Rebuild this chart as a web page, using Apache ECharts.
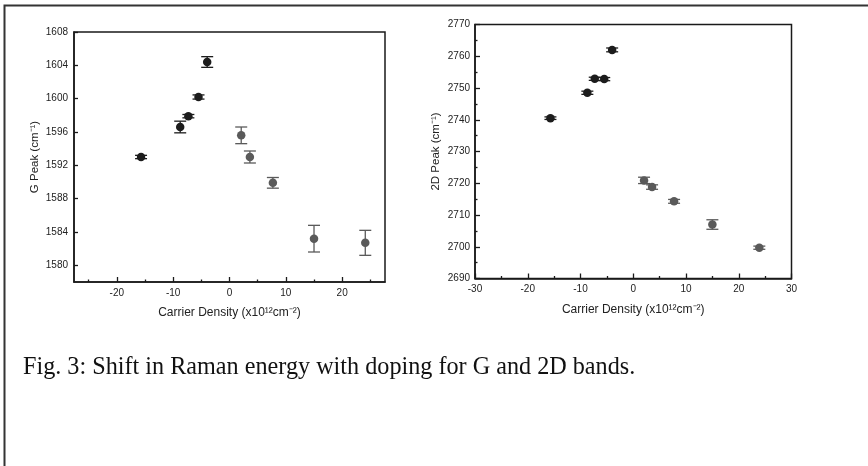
<!DOCTYPE html>
<html>
<head>
<meta charset="utf-8">
<script src="https://cdn.jsdelivr.net/npm/echarts@6/dist/echarts.min.js"></script>
<style>
html,body{margin:0;padding:0;background:#fff;}
#chart{width:868px;height:466px;}
</style>
</head>
<body>
<div id="chart"></div>
<script>
// ---- Data: G band (left panel) ----
const gDarkX   = [-15.7, -8.75, -7.3, -5.5, -3.96];
const gDarkY   = [1593.0, 1596.6, 1597.9, 1600.2, 1604.4];
const gDarkErr = [0.2, 0.7, 0.2, 0.25, 0.64];
const gGreyX   = [2.08, 3.62, 7.7, 15.0, 24.1];
const gGreyY   = [1595.6, 1593.0, 1589.9, 1583.2, 1582.7];
const gGreyErr = [1.0, 0.72, 0.64, 1.6, 1.5];

// ---- Data: 2D band (right panel) ----
const dDarkX   = [-15.7, -8.7, -7.3, -5.5, -4.0];
const dDarkY   = [2740.5, 2748.5, 2752.9, 2752.8, 2762.0];
const dDarkErr = [0.4, 0.5, 0.5, 0.5, 0.6];
const dGreyX   = [2.05, 3.57, 7.74, 15.0, 23.9];
const dGreyY   = [2720.9, 2718.8, 2714.3, 2707.0, 2699.7];
const dGreyErr = [1.0, 0.7, 0.6, 1.5, 0.5];

// ---- Tick labels ----
const gYTicks = [1580, 1584, 1588, 1592, 1596, 1600, 1604, 1608];
const gXTicks = [-20, -10, 0, 10, 20];
const gXMinorTicks = [-25, -15, -5, 5, 15, 25];
const dYTicks = [2690, 2700, 2710, 2720, 2730, 2740, 2750, 2760, 2770];
const dXTicks = [-30, -20, -10, 0, 10, 20, 30];

const caption = 'Fig. 3: Shift in Raman energy with doping for G and 2D bands.';
const xName = 'Carrier Density (x10\u00B9\u00B2cm\u207B\u00B2)';
const gYName = 'G Peak (cm\u207B\u00B9)';
const dYName = '2D Peak (cm\u207B\u00B9)';

const DARK = '#1c1c1c';
const GREY = '#5a5a5a';
const AXC = '#1a1a1a';
const FONT = '"Liberation Sans", Arial, sans-serif';

function zip(xs, ys, es) { return xs.map((x, i) => [x, ys[i], es[i]]); }
const plain = v => String(v);

function errRender(color) {
  return function (params, api) {
    const x = api.value(0), y = api.value(1), e = api.value(2);
    const t = api.coord([x, y + e]);
    const b = api.coord([x, y - e]);
    const hw = 6;
    const st = { stroke: color, lineWidth: 1.3 };
    return {
      type: 'group',
      children: [
        { type: 'line', shape: { x1: t[0], y1: t[1], x2: b[0], y2: b[1] }, style: st },
        { type: 'line', shape: { x1: t[0] - hw, y1: t[1], x2: t[0] + hw, y2: t[1] }, style: st },
        { type: 'line', shape: { x1: b[0] - hw, y1: b[1], x2: b[0] + hw, y2: b[1] }, style: st }
      ]
    };
  };
}

const labelStyle = { color: '#222', fontSize: 10, fontFamily: FONT, formatter: plain };
const nameStyle = { color: '#222', fontSize: 11.5, fontFamily: FONT };
const xNameStyle = { color: '#222', fontSize: 12, fontFamily: FONT };
const lineStyle = { color: AXC, width: 1.5 };

const chart = echarts.init(document.getElementById('chart'), null, { renderer: 'canvas' });

const option = {
  animation: false,
  backgroundColor: '#fff',
  title: {
    text: caption,
    left: 18, top: 351,
    textStyle: { fontFamily: '"Liberation Serif", "Times New Roman", serif', fontSize: 24.2, fontWeight: 'normal', color: '#111' }
  },
  graphic: [{
    type: 'polyline',
    shape: { points: [[4.5, 466], [4.5, 5.5], [868, 5.5]] },
    style: { stroke: '#333', lineWidth: 2, fill: null }
  }],
  grid: [
    { left: 74, top: 32, width: 311, height: 250, show: true, borderColor: AXC, borderWidth: 1.5, backgroundColor: 'transparent' },
    { left: 475, top: 24.5, width: 316.5, height: 254, show: true, borderColor: AXC, borderWidth: 1.5, backgroundColor: 'transparent' }
  ],
  xAxis: [
    {
      gridIndex: 0, type: 'value', min: -27.6, max: 27.6,
      name: xName, nameLocation: 'middle', nameGap: 25, nameTextStyle: xNameStyle,
      axisLine: { show: true, onZero: false, lineStyle: lineStyle },
      axisTick: { show: true, inside: true, length: 5, customValues: gXTicks, lineStyle: { color: AXC, width: 1.3 } },
      axisLabel: { show: true, customValues: gXTicks, margin: 6, ...labelStyle },
      splitLine: { show: false }
    },
    {
      gridIndex: 0, type: 'value', min: -27.6, max: 27.6, position: 'bottom',
      axisLine: { show: false, onZero: false },
      axisTick: { show: true, inside: true, length: 2.5, customValues: gXMinorTicks, lineStyle: { color: AXC, width: 1.3 } },
      axisLabel: { show: false },
      splitLine: { show: false }
    },
    {
      gridIndex: 1, type: 'value', min: -30, max: 30, interval: 10,
      name: xName, nameLocation: 'middle', nameGap: 25, nameTextStyle: xNameStyle,
      axisLine: { show: true, onZero: false, lineStyle: lineStyle },
      axisTick: { show: true, inside: true, length: 5, lineStyle: { color: AXC, width: 1.3 } },
      minorTick: { show: true, splitNumber: 2, length: 2.5, lineStyle: { color: AXC, width: 1.3 } },
      axisLabel: { show: true, margin: 6, ...labelStyle },
      splitLine: { show: false }
    }
  ],
  yAxis: [
    {
      gridIndex: 0, type: 'value', min: 1578, max: 1608,
      name: gYName, nameLocation: 'middle', nameGap: 33, nameRotate: 90, nameTextStyle: nameStyle,
      axisLine: { show: true, onZero: false, lineStyle: lineStyle },
      axisTick: { show: true, inside: true, length: 4, customValues: gYTicks, lineStyle: { color: AXC, width: 1.3 } },
      axisLabel: { show: true, customValues: gYTicks, margin: 6, ...labelStyle },
      splitLine: { show: false }
    },
    {
      gridIndex: 1, type: 'value', min: 2690, max: 2770, interval: 10,
      name: dYName, nameLocation: 'middle', nameGap: 33, nameRotate: 90, nameTextStyle: nameStyle,
      axisLine: { show: true, onZero: false, lineStyle: lineStyle },
      axisTick: { show: true, inside: true, length: 5, lineStyle: { color: AXC, width: 1.3 } },
      minorTick: { show: true, splitNumber: 2, length: 2.5, lineStyle: { color: AXC, width: 1.3 } },
      axisLabel: { show: true, margin: 5, ...labelStyle },
      splitLine: { show: false }
    }
  ],
  series: [
    { type: 'custom', xAxisIndex: 0, yAxisIndex: 0, renderItem: errRender(DARK), data: zip(gDarkX, gDarkY, gDarkErr), encode: { x: 0, y: 1 }, z: 2 },
    { type: 'custom', xAxisIndex: 0, yAxisIndex: 0, renderItem: errRender(GREY), data: zip(gGreyX, gGreyY, gGreyErr), encode: { x: 0, y: 1 }, z: 2 },
    { type: 'scatter', xAxisIndex: 0, yAxisIndex: 0, symbolSize: 8.5, itemStyle: { color: DARK, opacity: 1 }, data: gDarkX.map((x, i) => [x, gDarkY[i]]), z: 3 },
    { type: 'scatter', xAxisIndex: 0, yAxisIndex: 0, symbolSize: 8.5, itemStyle: { color: GREY, opacity: 1 }, data: gGreyX.map((x, i) => [x, gGreyY[i]]), z: 3 },

    { type: 'custom', xAxisIndex: 2, yAxisIndex: 1, renderItem: errRender(DARK), data: zip(dDarkX, dDarkY, dDarkErr), encode: { x: 0, y: 1 }, z: 2 },
    { type: 'custom', xAxisIndex: 2, yAxisIndex: 1, renderItem: errRender(GREY), data: zip(dGreyX, dGreyY, dGreyErr), encode: { x: 0, y: 1 }, z: 2 },
    { type: 'scatter', xAxisIndex: 2, yAxisIndex: 1, symbolSize: 8.5, itemStyle: { color: DARK, opacity: 1 }, data: dDarkX.map((x, i) => [x, dDarkY[i]]), z: 3 },
    { type: 'scatter', xAxisIndex: 2, yAxisIndex: 1, symbolSize: 8.5, itemStyle: { color: GREY, opacity: 1 }, data: dGreyX.map((x, i) => [x, dGreyY[i]]), z: 3 }
  ]
};
chart.setOption(option);
</script>
</body>
</html>
